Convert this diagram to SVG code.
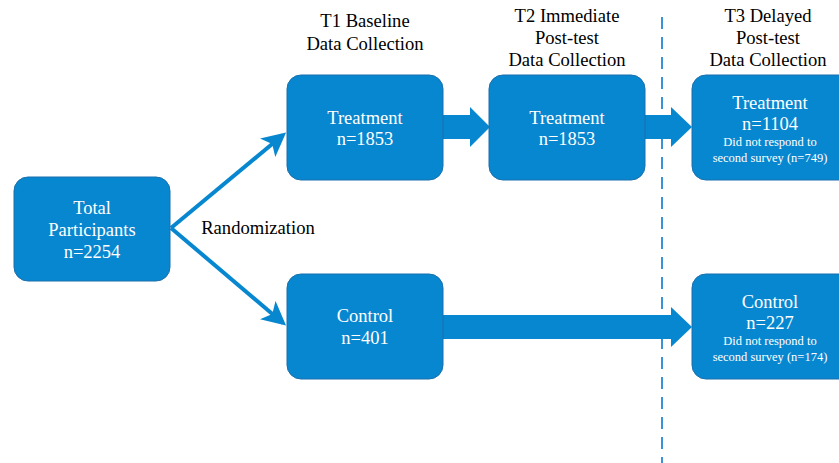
<svg xmlns="http://www.w3.org/2000/svg" width="839" height="463" viewBox="0 0 839 463" font-family="'Liberation Serif', 'Times New Roman', 'DejaVu Serif', serif">
<style>
.box{fill:#0787cf;stroke:#1a6fae;stroke-width:1}
text{font-family:'Liberation Serif','Times New Roman','DejaVu Serif',serif}
.t{font-size:18.6px;text-anchor:middle}
.b{font-size:18.5px;text-anchor:middle;fill:#ffffff}
.k{fill:#000000}
.s{font-size:12.5px;text-anchor:middle;fill:#ffffff}
.arr{fill:#0787cf}
</style>
<defs>
<marker id="ah" markerWidth="6" markerHeight="6" refX="5" refY="3" orient="auto" markerUnits="strokeWidth">
<path d="M0,0 L6,3 L0,6 L1.5,3 Z" fill="#0787cf"/>
</marker>
</defs>
<rect width="839" height="463" fill="#ffffff"/>
<g id="headers">
<text class="t k" x="365" y="27">T1 Baseline</text>
<text class="t k" x="365" y="50">Data Collection</text>
<text class="t k" x="567" y="22">T2 Immediate</text>
<text class="t k" x="567" y="44">Post-test</text>
<text class="t k" x="567" y="66">Data Collection</text>
<text class="t k" x="768" y="22">T3 Delayed</text>
<text class="t k" x="768" y="44">Post-test</text>
<text class="t k" x="768" y="66">Data Collection</text>
<text class="t k" x="258" y="234">Randomization</text>
</g>
<g id="divider">
<line x1="662" y1="17" x2="662" y2="463" stroke="#3a93d6" stroke-width="2" stroke-dasharray="12,8"/>
</g>
<g id="connectors">
<line x1="171" y1="228" x2="283" y2="135" stroke="#0787cf" stroke-width="4" marker-end="url(#ah)"/>
<line x1="171" y1="228" x2="283" y2="323" stroke="#0787cf" stroke-width="4" marker-end="url(#ah)"/>
<path class="arr" d="M443,115 L470,115 L470,107 L490,127 L470,147 L470,139 L443,139 Z"/>
<path class="arr" d="M645,115 L671,115 L671,107 L692,127 L671,147 L671,139 L645,139 Z"/>
<path class="arr" d="M443,315 L671,315 L671,307 L692,327 L671,347 L671,339 L443,339 Z"/>
</g>
<g id="total">
<rect class="box" x="14" y="177" width="156" height="104" rx="14"/>
<text class="b" x="92" y="214">Total</text>
<text class="b" x="92" y="236">Participants</text>
<text class="b" x="92" y="258">n=2254</text>
</g>
<g id="treatment1">
<rect class="box" x="287" y="75" width="156" height="105" rx="14"/>
<text class="b" x="365" y="124">Treatment</text>
<text class="b" x="365" y="145">n=1853</text>
</g>
<g id="treatment2">
<rect class="box" x="489" y="75" width="156" height="105" rx="14"/>
<text class="b" x="567" y="124">Treatment</text>
<text class="b" x="567" y="145">n=1853</text>
</g>
<g id="treatment3">
<rect class="box" x="692" y="75" width="170" height="105" rx="14"/>
<text class="b" x="770" y="109">Treatment</text>
<text class="b" x="770" y="130">n=1104</text>
<text class="s" x="770" y="146">Did not respond to</text>
<text class="s" x="770" y="162">second survey (n=749)</text>
</g>
<g id="control1">
<rect class="box" x="287" y="274" width="156" height="105" rx="14"/>
<text class="b" x="365" y="322">Control</text>
<text class="b" x="365" y="344">n=401</text>
</g>
<g id="control3">
<rect class="box" x="692" y="274" width="170" height="105" rx="14"/>
<text class="b" x="770" y="308">Control</text>
<text class="b" x="770" y="329">n=227</text>
<text class="s" x="770" y="345">Did not respond to</text>
<text class="s" x="770" y="361">second survey (n=174)</text>
</g>
</svg>
